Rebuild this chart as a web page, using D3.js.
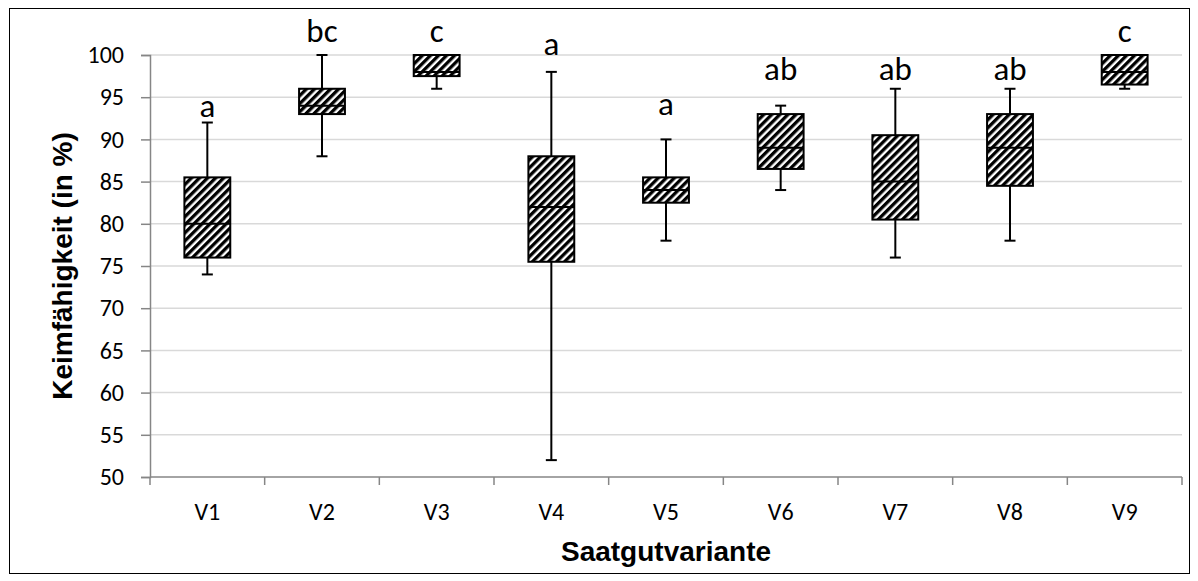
<!DOCTYPE html>
<html>
<head>
<meta charset="utf-8">
<script src="https://cdn.jsdelivr.net/npm/d3@7"></script>
<style>
  body { margin: 0; background: #fff; }
  text { font-family: Calibri, Carlito, Lato, sans-serif; }
</style>
</head>
<body>
<script>
// boxplot values (Keimfähigkeit in %)
var variants = ["V1", "V2", "V3", "V4", "V5", "V6", "V7", "V8", "V9"];
var minVals  = [74, 88, 96, 52, 78, 84, 76, 78, 96];
var q1Vals   = [76, 93, 97.5, 75.5, 82.5, 86.5, 80.5, 84.5, 96.5];
var medVals  = [80, 94, 98, 82, 84, 89, 85, 89, 98];
var q3Vals   = [85.5, 96, 100, 88, 85.5, 93, 90.5, 93, 100];
var maxVals  = [92, 100, 100, 98, 90, 94, 96, 96, 100];
// significance letters and the value where their baseline sits
var letters  = ["a", "bc", "c", "a", "a", "ab", "ab", "ab", "c"];
var letterPos = [92.7, 101.5, 101.5, 100, 92.9, 97, 97, 97, 101.5];
var yTicks = [50, 55, 60, 65, 70, 75, 80, 85, 90, 95, 100];

var W = 1198, H = 581;
var margin = {top: 55, right: 16, bottom: 104, left: 150};

var svg = d3.select("body").append("svg")
    .attr("width", W)
    .attr("height", H);

// hatch pattern (wide upward diagonal)
var defs = svg.append("defs");
var pat = defs.append("pattern")
    .attr("id", "hatch")
    .attr("patternUnits", "userSpaceOnUse")
    .attr("width", 5.7)
    .attr("height", 5.7)
    .attr("patternTransform", "rotate(45)");
pat.append("rect").attr("width", 5.7).attr("height", 5.7).attr("fill", "#fff");
pat.append("rect").attr("width", 3.3).attr("height", 5.7).attr("fill", "#000");

// outer frame
svg.append("rect")
    .attr("x", 9.5).attr("y", 8.5)
    .attr("width", 1180).attr("height", 565)
    .attr("fill", "none")
    .attr("stroke", "#000")
    .attr("stroke-width", 1);

var width = 1182 - margin.left,
    height = 477 - margin.top;

var g = svg.append("g")
    .attr("transform", "translate(" + margin.left + "," + margin.top + ")");

var x = d3.scaleBand().domain(variants).range([0, width]);
var y = d3.scaleLinear().domain([50, 100]).range([height, 0]);

// gridlines
g.selectAll(".grid")
  .data(yTicks.slice(1))
  .enter().append("line")
    .attr("class", "grid")
    .attr("x1", 0).attr("x2", width)
    .attr("y1", function(d) { return y(d); })
    .attr("y2", function(d) { return y(d); })
    .attr("stroke", "#d9d9d9")
    .attr("stroke-width", 1.5);

// y axis
var yAxis = g.append("g")
    .call(d3.axisLeft(y).tickValues(yTicks).tickSize(9).tickPadding(17));
yAxis.select(".domain").attr("stroke", "#868686").attr("stroke-width", 1.5);
yAxis.selectAll(".tick line").attr("stroke", "#868686").attr("stroke-width", 1.5);
yAxis.selectAll("text")
    .attr("font-size", 24)
    .attr("font-family", "Calibri, Carlito, Lato, sans-serif")
    .attr("fill", "#000");

// x axis, ticks between categories
var xAxis = g.append("g")
    .attr("transform", "translate(0," + height + ")");
xAxis.append("line")
    .attr("x1", 0).attr("x2", width)
    .attr("stroke", "#868686").attr("stroke-width", 1.5);
xAxis.selectAll(".xtick")
  .data(d3.range(variants.length + 1))
  .enter().append("line")
    .attr("x1", function(i) { return i * x.step(); })
    .attr("x2", function(i) { return i * x.step(); })
    .attr("y1", 0).attr("y2", 8)
    .attr("stroke", "#868686").attr("stroke-width", 1.5);
xAxis.selectAll(".xlab")
  .data(variants)
  .enter().append("text")
    .attr("x", function(d) { return x(d) + x.bandwidth() / 2; })
    .attr("y", 43)
    .attr("text-anchor", "middle")
    .attr("font-size", 24)
    .text(function(d) { return d; });

// boxes
var boxW = x.bandwidth() * 0.4;
var capW = 11;
var boxes = g.selectAll(".box")
  .data(variants)
  .enter().append("g")
    .attr("transform", function(d) { return "translate(" + (x(d) + x.bandwidth() / 2) + ",0)"; });

boxes.append("line")   // whisker
    .attr("x1", 0).attr("x2", 0)
    .attr("y1", function(d, i) { return y(minVals[i]); })
    .attr("y2", function(d, i) { return y(maxVals[i]); })
    .attr("stroke", "#000").attr("stroke-width", 2);
boxes.append("line")   // upper cap
    .attr("x1", -capW / 2).attr("x2", capW / 2)
    .attr("y1", function(d, i) { return y(maxVals[i]); })
    .attr("y2", function(d, i) { return y(maxVals[i]); })
    .attr("stroke", "#000").attr("stroke-width", 2);
boxes.append("line")   // lower cap
    .attr("x1", -capW / 2).attr("x2", capW / 2)
    .attr("y1", function(d, i) { return y(minVals[i]); })
    .attr("y2", function(d, i) { return y(minVals[i]); })
    .attr("stroke", "#000").attr("stroke-width", 2);
boxes.append("rect")
    .attr("x", -boxW / 2)
    .attr("width", boxW)
    .attr("y", function(d, i) { return y(q3Vals[i]); })
    .attr("height", function(d, i) { return y(q1Vals[i]) - y(q3Vals[i]); })
    .attr("fill", "url(#hatch)")
    .attr("stroke", "#000").attr("stroke-width", 2);
boxes.append("line")   // median
    .attr("x1", -boxW / 2).attr("x2", boxW / 2)
    .attr("y1", function(d, i) { return y(medVals[i]); })
    .attr("y2", function(d, i) { return y(medVals[i]); })
    .attr("stroke", "#000").attr("stroke-width", 2);
boxes.append("text")
    .attr("y", function(d, i) { return y(letterPos[i]); })
    .attr("text-anchor", "middle")
    .attr("font-size", 33)
    .text(function(d, i) { return letters[i]; });

// axis titles
svg.append("text")
    .attr("x", margin.left + width / 2)
    .attr("y", 561)
    .attr("text-anchor", "middle")
    .style("font-family", "Arial, 'Liberation Sans', sans-serif")
    .attr("font-weight", "bold")
    .attr("font-size", 28)
    .text("Saatgutvariante");

svg.append("text")
    .attr("transform", "translate(72," + (margin.top + height / 2) + ") rotate(-90)")
    .attr("text-anchor", "middle")
    .style("font-family", "Arial, 'Liberation Sans', sans-serif")
    .attr("font-weight", "bold")
    .attr("font-size", 28)
    .text("Keimfähigkeit (in %)");
</script>
</body>
</html>
